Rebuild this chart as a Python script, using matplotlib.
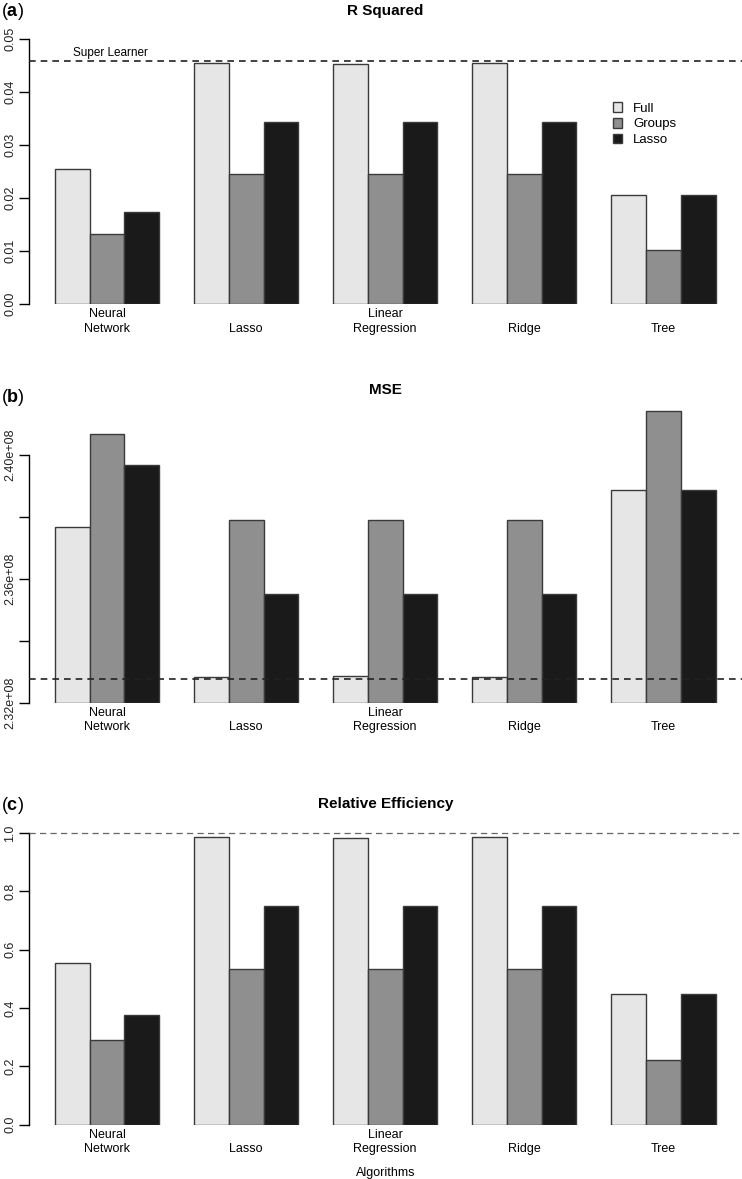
import numpy as np
import matplotlib
matplotlib.use("Agg")
import matplotlib.pyplot as plt
from matplotlib import font_manager

# --- DATA ---
algorithms = ["Neural\nNetwork", "Lasso", "Linear\nRegression", "Ridge", "Tree"]
series = ["Full", "Groups", "Lasso"]

r2_full = [0.02542, 0.04539, 0.04520, 0.04539, 0.02064]
r2_groups = [0.01324, 0.02448, 0.02448, 0.02450, 0.01017]
r2_lasso = [0.01733, 0.03427, 0.03427, 0.03427, 0.02064]
r2_super = 0.04590

mse_full = [2.3768e8, 2.3283e8, 2.3286e8, 2.3284e8, 2.3885e8]
mse_groups = [2.4066e8, 2.3790e8, 2.3790e8, 2.3790e8, 2.4140e8]
mse_lasso = [2.3968e8, 2.3552e8, 2.3552e8, 2.3552e8, 2.3886e8]
mse_super = 2.32765e8

re_full = [0.5554, 0.9874, 0.9840, 0.9863, 0.4491]
re_groups = [0.2893, 0.5337, 0.5337, 0.5337, 0.2207]
re_lasso = [0.3771, 0.7486, 0.7486, 0.7486, 0.4491]
re_super = 1.0

r2_ticks = [0.00, 0.01, 0.02, 0.03, 0.04, 0.05]
r2_ticklabels = ["0.00", "0.01", "0.02", "0.03", "0.04", "0.05"]
mse_ticks = [2.32e8, 2.34e8, 2.36e8, 2.38e8, 2.40e8]
mse_ticklabels = ["2.32e+08", "", "2.36e+08", "", "2.40e+08"]
re_ticks = [0.0, 0.2, 0.4, 0.6, 0.8, 1.0]
re_ticklabels = ["0.0", "0.2", "0.4", "0.6", "0.8", "1.0"]

# --- STYLE ---
colors = ["#e6e6e6", "#8f8f8f", "#1a1a1a"]
edge = "#3a3a3a"
installed = {f.name for f in font_manager.fontManager.ttflist}
narrow = "Liberation Sans Narrow" if "Liberation Sans Narrow" in installed else "Liberation Sans"
plt.rcParams["font.family"] = ["Liberation Sans", "DejaVu Sans"]
plt.rcParams["mathtext.fontset"] = "custom"
plt.rcParams["mathtext.rm"] = narrow
plt.rcParams["mathtext.bf"] = narrow + ":bold"

W, H = 742, 1179
fig = plt.figure(figsize=(W / 100, H / 100), dpi=100)


def place(top_px, bottom_px, left_px=28.5, right_px=742):
    return [left_px / W, 1 - bottom_px / H, (right_px - left_px) / W, (bottom_px - top_px) / H]


def panel(rect, vals, ylim, ticks, ticklabels, ref, title, title_pad,
          ref_color="#222222", ref_lw=1.2, ref_dashes=(4, 3)):
    ax = fig.add_axes(rect)
    n = len(algorithms)
    centers = 4 * np.arange(n) + 2.5
    for k, v in enumerate(vals):
        v = np.asarray(v)
        ax.bar(centers + (k - 1), v - ylim[0], bottom=ylim[0], width=1.0,
               color=colors[k], edgecolor=edge, linewidth=1.0, label=series[k], zorder=2)
    ax.axhline(ref, color=ref_color, lw=ref_lw, dashes=ref_dashes, zorder=3)
    ax.set_xlim(0.24, 20.76)
    ax.set_ylim(*ylim)
    for s in ["top", "right", "bottom"]:
        ax.spines[s].set_visible(False)
    ax.spines["left"].set_bounds(ticks[0], ticks[-1])
    ax.spines["left"].set_linewidth(1.0)
    ax.set_xticks([])
    ax.set_yticks(ticks)
    ax.set_yticklabels(ticklabels, rotation=90, va="center", fontsize=9, color="#222222")
    ax.tick_params(axis="y", length=7, width=1.0, pad=2)
    for c, lab in zip(centers, algorithms):
        ax.annotate(lab, xy=(c, 0), xycoords=("data", "axes fraction"),
                    xytext=(0, -22), textcoords="offset points", ha="center",
                    va="bottom", fontsize=9, family=narrow, linespacing=1.3)
    ax.set_title(title, fontsize=11, fontweight="bold", family=narrow, pad=title_pad)
    return ax


ax1 = panel(place(28.2, 304.3), [r2_full, r2_groups, r2_lasso], (0, 0.052),
            r2_ticks, r2_ticklabels, r2_super, "R Squared", 9.4)
ax1.annotate("Super Learner", xy=(2.6, r2_super), xytext=(0, 1.5), textcoords="offset points",
             ha="center", va="bottom", fontsize=8.5, family=narrow)
ax1.legend(loc="upper left", bbox_to_anchor=(0.802, 0.775), frameon=False,
           handlelength=0.75, handleheight=0.75, handletextpad=0.8, labelspacing=0.25,
           prop={"family": narrow, "size": 9.5})

ax2 = panel(place(405.1, 702.7), [mse_full, mse_groups, mse_lasso], (2.32e8, 2.416e8),
            mse_ticks, mse_ticklabels, mse_super, "MSE", 8)

ax3 = panel(place(821.3, 1124.7), [re_full, re_groups, re_lasso], (0, 1.04),
            re_ticks, re_ticklabels, re_super, "Relative Efficiency", 9.8,
            ref_color="#666666", ref_lw=0.9, ref_dashes=(5, 3.4))
ax3.annotate("Algorithms", xy=(0.5, 0), xycoords="axes fraction", xytext=(0, -35),
             textcoords="offset points", ha="center", va="center", fontsize=9, family=narrow)

for letter, yc in zip(["a", "b", "c"], [12, 398, 805]):
    fig.text(1 / W, 1 - yc / H, "(" + r"$\mathbf{" + letter + "}$" + ")", fontsize=13,
             family=narrow, va="center", ha="left")

fig.savefig("out.png", dpi=100)
